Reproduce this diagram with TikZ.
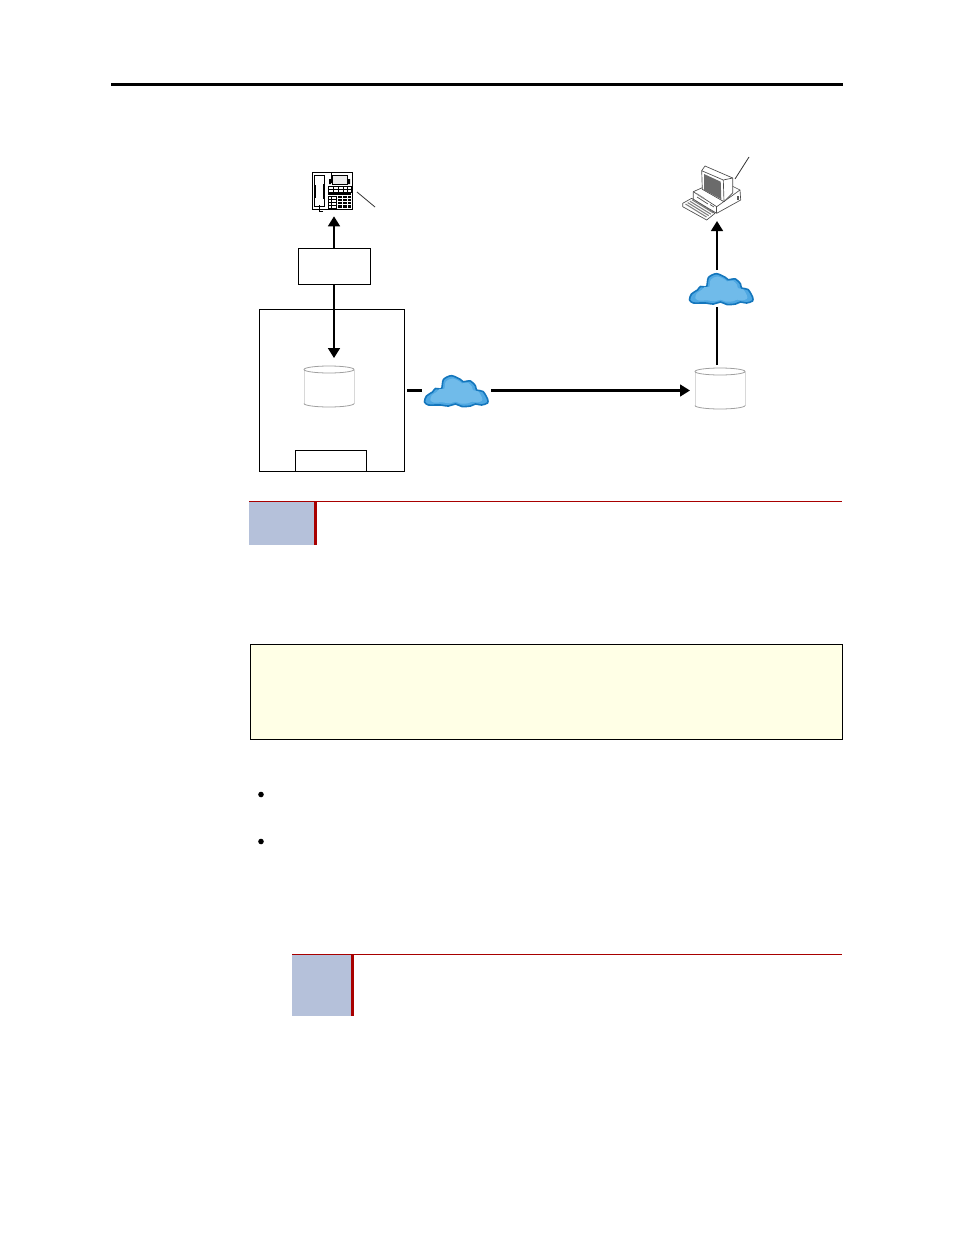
\documentclass[tikz,border=0pt]{standalone}
\usetikzlibrary{arrows.meta}
\definecolor{noteblue}{HTML}{B5C1DA}
\definecolor{notered}{HTML}{A80000}
\definecolor{notepale}{HTML}{FFFFE6}
\definecolor{cloudedge}{HTML}{1476BC}
\definecolor{cloudfill}{HTML}{4FA8E2}
\definecolor{cloudlight}{HTML}{70BBEA}
\definecolor{cylgray}{HTML}{A0A0A0}
\definecolor{cylpale}{HTML}{D8D8D8}
\newcommand{\cloudoutline}{plot[smooth cycle,tension=0.5] coordinates {(0,27)(2,21)(8,17)(11,13.5)(17,13.5)(19,4.5)(27,0.7)(36,4.5)(38.5,6.7)(46,6)(51,11)(52,15)(58.5,16.5)(63,24)(63,28)(57,30)(51,29)(46,31)(37.5,31.5)(31,29)(24,31)(16,30)(11,30)(4,30)}}
\tikzset{
  x=0.75pt,y=-0.75pt,
  boxnode/.style={draw=black,line width=0.75pt,fill=white,inner sep=0pt,rectangle},
  slot/.style={inner sep=0pt,rectangle},
  link/.style={line width=1.7pt,draw=black},
  arrowlink/.style={link,-{Triangle[length=7.5pt,width=8.8pt]}},
  leader/.style={line width=0.6pt,draw=black!80},
  thin px/.style={line width=0.55pt,draw=black},
  cloudpic/.pic={
    \draw[line width=1.2pt,draw=cloudedge,fill=cloudfill,line join=round] \cloudoutline;
    \begin{scope}[shift={(32,16)},scale=0.82,shift={(-32,-16)}]
      \fill[cloudlight] \cloudoutline;
    \end{scope}
  },
  drumpic/.pic={
    \fill[white] (-25,-17) rectangle (25,17) (0,17) ellipse (25 and 3.5);
    \draw[cylpale,line width=0.5pt] (-25,-17) -- (-25,17) (25,-17) -- (25,17);
    \draw[cylgray,line width=0.6pt,fill=white] (0,-17) ellipse (25 and 3.5);
    \draw[cylgray,line width=0.6pt] (-25,17) arc[start angle=180,end angle=360,x radius=25,y radius=-3.5];
  }
}
\begin{document}
\begin{tikzpicture}
\useasboundingbox (0,0) rectangle (954,1235);
\fill[white] (0,0) rectangle (954,1235);
% page rule
\fill[black] (111,83) rectangle (843,86);
% diagram boxes
\node[boxnode,minimum width=108.75pt,minimum height=121.5pt] (big) at (332,390.5) {};
\node[boxnode,minimum width=53.25pt,minimum height=15.75pt] (slotbox) at (331,461) {};
\node[boxnode,minimum width=54pt,minimum height=27pt] (gate) at (334.5,266.5) {};
\node[slot,minimum width=37.5pt,minimum height=32.25pt] (cylA) at (329,386.5) {};
\node[slot,minimum width=37.5pt,minimum height=32.25pt] (cylB) at (720,388.5) {};
\pic at (cylA) {drumpic};
\pic at (cylB) {drumpic};
% clouds
\pic at (424.5,375) {cloudpic};
\pic at (689.5,273) {cloudpic};
\node[slot,minimum width=48pt,minimum height=23pt] (cloudA) at (456,390.5) {};
\node[slot,minimum width=48pt,minimum height=23pt] (cloudB) at (721,288.5) {};
% phone
\node[slot,minimum width=30.75pt,minimum height=28.5pt] (phone) at (332.5,191) {};
\begin{scope}[thin px]
  \draw[line width=0.9pt] (312.5,172.5) rectangle (352.5,209.5);
  \draw (314.5,175) rectangle (324,206);
  \draw[line width=1.2pt] (315,185) -- (315,198);
  \draw[line width=1pt] (323.5,184) -- (323.5,199);
  \draw (331,172.5) -- (331,183);
  \draw[fill=black!8] (332,175) rectangle (347,184);
  \fill[black] (329,179) rectangle (331,184) (348,179) rectangle (350,184);
  \draw (328,186) rectangle (351,192);
  \foreach \k in {333,338,343,347} \draw (\k,186) -- (\k,192);
  \draw (328,189) -- (351,189);
  \draw[line width=0.9pt] (328,194) -- (351,194);
  \draw (328,196) rectangle (336,208);
  \foreach \k in {199,202,205} \draw (328,\k) -- (336,\k);
  \draw (331,196) -- (331,208);
  \fill[black] (338,196) rectangle (351,208);
  \foreach \k in {198.5,201.5,204.5} \draw[white,line width=0.5pt] (338,\k) -- (351,\k);
  \foreach \k in {342,347} \draw[white,line width=0.5pt] (\k,196) -- (\k,208);
  \draw (319,205) -- (319,211) -- (323,211);
\end{scope}
% computer
\node[slot,minimum width=45pt,minimum height=41pt] (pc) at (712,192.5) {};
\begin{scope}[line width=0.5pt,draw=black!70,line join=round]
  % base
  \draw[fill=white] (693.3,191.7) -- (706,186) -- (732,186) -- (740,190) -- (740.7,200) -- (716.7,213.3) -- (693.3,199.3) -- cycle;
  \draw (693.3,191.7) -- (716.7,206.7) -- (740,190);
  \draw (716.7,206.7) -- (716.7,213.3);
  \fill[black!65] (737,196) rectangle (739,200);
  \draw (697,197) -- (708,204) (710,204.5) -- (714,207);
  \draw[line width=0.9pt,black!45] (697,194) -- (704,198.5);
  % monitor
  \draw[fill=white] (701.7,170.7) -- (705,166) -- (732.7,178) -- (732.7,193) -- (724,201.7) -- (702.3,189.3) -- cycle;
  \draw (701.7,170.7) -- (723.3,180) -- (732.7,178) (723.3,180) -- (724,201.7);
  \fill[black!58] (704,174) -- (720.7,181.7) -- (721.3,199.3) -- (704,190) -- cycle;
  % keyboard
  \draw[fill=white] (682.7,203.3) -- (691.7,198.3) -- (715,213.3) -- (706.7,220) -- (682.7,206.7) -- cycle;
  \foreach \k in {0,1,2,3} \draw[black!50,line width=0.8pt] (685.5+2.2*\k,204-1.4*\k) -- (706.5+2.2*\k,217-1.4*\k);
\end{scope}
% connectors
\draw[arrowlink] ([xshift=-0.375pt]gate.north) -- ([xshift=-0.375pt,yshift=-4.5pt]gate.north |- phone.south);
\draw[arrowlink,shorten >=5pt] ([xshift=-0.375pt]gate.south) -- ([xshift=-0.375pt]gate.south |- cylA.north);
\draw[link,shorten <=1.5pt,shorten >=1.5pt] (big.east) -- (cloudA.west);
\coordinate (cAout) at (491,390.5);
\coordinate (cBin) at (690,390.5);
\draw[arrowlink] (cAout) -- (cBin);
\coordinate (cBtop) at (717,365);
\coordinate (cBcloud) at (717,307);
\coordinate (cloudBup) at (717,270);
\coordinate (pcfoot) at (717,221);
\draw[link] (cBtop) -- (cBcloud);
\draw[arrowlink] (cloudBup) -- (pcfoot);
% leaders
\coordinate (phoneLeadA) at (357,192);
\coordinate (phoneLeadB) at (375,207);
\coordinate (pcLeadA) at (735,179);
\coordinate (pcLeadB) at (749,157);
\draw[leader] (phoneLeadA) -- (phoneLeadB);
\draw[leader] (pcLeadA) -- (pcLeadB);
% first note
\fill[noteblue] (249,502) rectangle (314,545);
\fill[notered] (314,502) rectangle (317,545);
\draw[notered,line width=0.6pt] (249,501.5) -- (842,501.5);
% callout
\draw[black,line width=0.75pt,fill=notepale] (250.5,644.5) rectangle (842.5,739.5);
% bullets
\fill[black] (261,794.5) circle (2.8);
\fill[black] (261,841.5) circle (2.8);
% second note
\fill[noteblue] (292,955) rectangle (351,1016);
\fill[notered] (351,955) rectangle (354,1016);
\draw[notered,line width=0.6pt] (292,954.5) -- (842,954.5);
\end{tikzpicture}
\end{document}
